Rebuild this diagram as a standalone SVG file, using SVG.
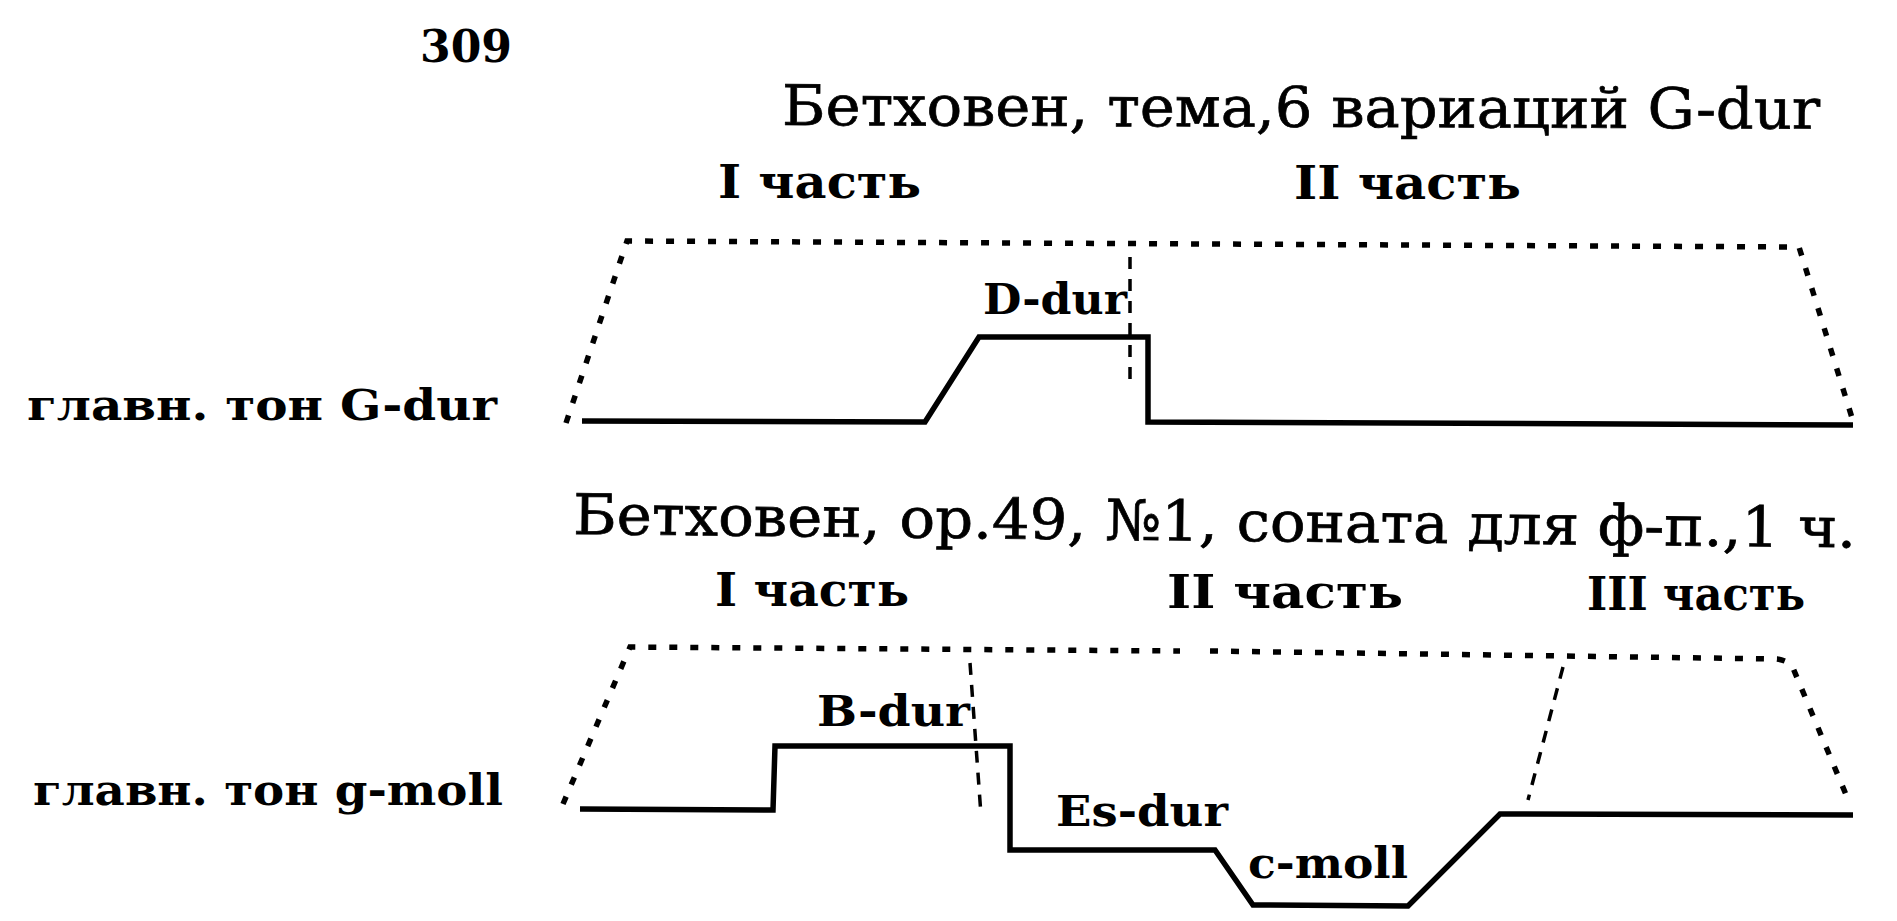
<svg xmlns="http://www.w3.org/2000/svg" width="1897" height="921" viewBox="0 0 1897 921">
<style>
  .bg{fill:#ffffff}
  .title{font-family:"DejaVu Serif","Liberation Serif",serif;font-size:56px;fill:#000;stroke:#000;stroke-width:0.7}
  .lbl{font-family:"DejaVu Serif","Liberation Serif",serif;font-weight:bold;font-size:46px;fill:#000}
  .key{font-family:"DejaVu Serif","Liberation Serif",serif;font-weight:bold;font-size:42px;fill:#000}
  .num{font-family:"DejaVu Serif","Liberation Serif",serif;font-weight:bold;font-size:44px;fill:#000}
  .solid{fill:none;stroke:#000;stroke-width:5.5;stroke-linejoin:miter}
  .dotted{fill:none;stroke:#000;stroke-width:5.5;stroke-dasharray:8 13}
  .dashed{fill:none;stroke:#000;stroke-width:3.5;stroke-dasharray:12 10}
</style>
<rect class="bg" x="0" y="0" width="1897" height="921"/>

<g id="page-number">
  <text class="num" x="420" y="62" textLength="92" lengthAdjust="spacingAndGlyphs">309</text>
</g>

<g id="diagram-1">
  <g id="title-1">
    <text class="title" x="782" y="125" transform="rotate(0.2 782 125)" textLength="1038" lengthAdjust="spacingAndGlyphs">Бетховен, тема,6 вариаций G-dur</text>
  </g>
  <g id="part-1-I">
    <text class="lbl" x="718" y="198" textLength="203" lengthAdjust="spacingAndGlyphs">I часть</text>
  </g>
  <g id="part-1-II">
    <text class="lbl" x="1294" y="199" textLength="227" lengthAdjust="spacingAndGlyphs">II часть</text>
  </g>
  <g id="main-key-1">
    <text class="key" x="27" y="420" textLength="470" lengthAdjust="spacingAndGlyphs">главн. тон G-dur</text>
  </g>
  <g id="key-D-dur">
    <text class="key" x="983" y="314" textLength="144" lengthAdjust="spacingAndGlyphs">D-dur</text>
  </g>
</g>

<g id="diagram-2">
  <g id="title-2">
    <text class="title" x="573" y="534" transform="rotate(0.6 573 534)" textLength="1283" lengthAdjust="spacingAndGlyphs">Бетховен, ор.49, №1, соната для ф-п.,1 ч.</text>
  </g>
  <g id="part-2-I">
    <text class="lbl" x="715" y="606" textLength="194" lengthAdjust="spacingAndGlyphs">I часть</text>
  </g>
  <g id="part-2-II">
    <text class="lbl" x="1167" y="608" textLength="236" lengthAdjust="spacingAndGlyphs">II часть</text>
  </g>
  <g id="part-2-III">
    <text class="lbl" x="1587" y="610" textLength="218" lengthAdjust="spacingAndGlyphs">III часть</text>
  </g>
  <g id="main-key-2">
    <text class="key" x="33" y="805" textLength="470" lengthAdjust="spacingAndGlyphs">главн. тон  g-moll</text>
  </g>
  <g id="key-B-dur">
    <text class="key" x="817" y="726" textLength="153" lengthAdjust="spacingAndGlyphs">B-dur</text>
  </g>
  <g id="key-Es-dur">
    <text class="key" x="1056" y="826" textLength="172" lengthAdjust="spacingAndGlyphs">Es-dur</text>
  </g>
  <g id="key-c-moll">
    <text class="key" x="1248" y="878" textLength="160" lengthAdjust="spacingAndGlyphs">c-moll</text>
  </g>
</g>

<g id="connectors">
  <!-- diagram 1 -->
  <path class="dotted" d="M566,423 L627,241 L1799,247 L1853,421"/>
  <path class="dashed" d="M1130,257 L1130,381"/>
  <path class="solid" d="M582,421 L925,422 L979,337 L1148,337 L1148,422 L1853,425"/>
  <!-- diagram 2 -->
  <path class="dotted" d="M563,804 L630,647 L1180,651"/>
  <path class="dotted" d="M1210,651 L1777,659 Q1790,661 1793,668 L1847,797"/>
  <path class="dashed" d="M1563,667 L1528,800"/>
  <path class="dashed" d="M970,663 L981,815"/>
  <path class="solid" d="M580,809 L773,810 L775,746 L1010,746 L1010,850 L1215,850 L1253,905 L1408,906 L1500,814 L1853,815"/>
</g>
</svg>
